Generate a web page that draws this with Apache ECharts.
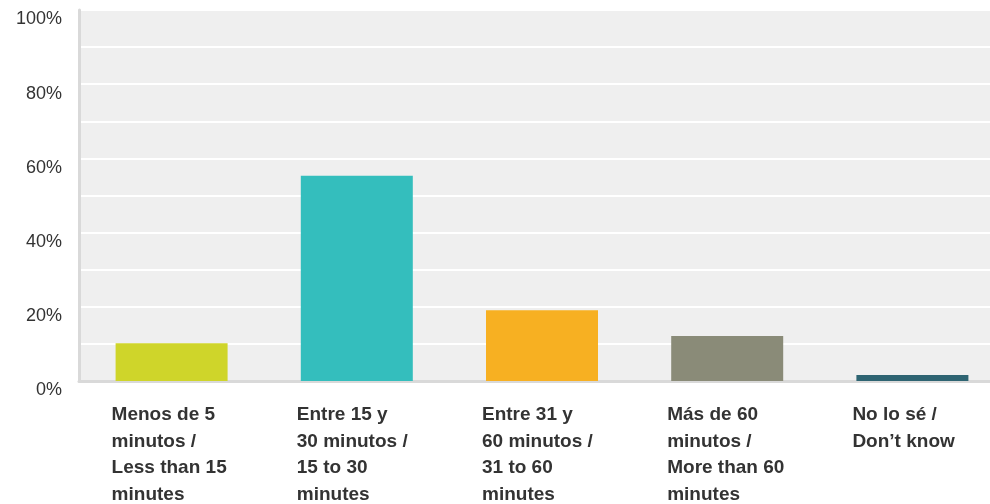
<!DOCTYPE html>
<html>
<head>
<meta charset="utf-8">
<script src="https://cdn.jsdelivr.net/npm/echarts@6/dist/echarts.min.js"></script>
<style>
  html, body { margin: 0; padding: 0; background: #fff; }
  #chart { width: 990px; height: 504px; }
</style>
</head>
<body>
<div id="chart"></div>
<script>
const categories = [
  "Menos de 5\nminutos /\nLess than 15\nminutes",
  "Entre 15 y\n30 minutos /\n15 to 30\nminutes",
  "Entre 31 y\n60 minutos /\n31 to 60\nminutes",
  "Más de 60\nminutos /\nMore than 60\nminutes",
  "No lo sé /\nDon’t know",
];
const values = [10.2, 55.3, 19.1, 12.1, 1.6];
const barColors = ["#cfd52a", "#34bebd", "#f7b022", "#8a8b78", "#2e6472"];

const chart = echarts.init(document.getElementById("chart"));

const option = {
  animation: false,
  grid: {
    left: 79,
    top: 10,
    width: 926,
    bottom: 123,
    outerBoundsMode: "none",
    containLabel: false,
    show: true,
    backgroundColor: "#efefef",
    borderWidth: 0,
  },
  xAxis: {
    type: "category",
    data: categories,
    axisLine: { show: true, lineStyle: { color: "#d9d9d9", width: 3 } },
    axisTick: { show: false },
    axisLabel: {
      interval: 0,
      margin: 21,
      align: "center",
      formatter: (v) => v.split("\n").map((s) => `{a|${s}}`).join("\n"),
      rich: {
        a: {
          width: 120,
          align: "left",
          fontFamily: "Liberation Sans, Arial, sans-serif",
          fontWeight: "bold",
          fontSize: 19,
          lineHeight: 26.5,
          color: "#333",
        },
      },
    },
  },
  yAxis: {
    type: "value",
    min: 0,
    max: 100,
    interval: 10,
    axisLine: { show: true, lineStyle: { color: "#d9d9d9", width: 3 } },
    axisTick: { show: false },
    splitLine: { show: true, lineStyle: { color: "#ffffff", width: 2 } },
    axisLabel: {
      margin: 17,
      verticalAlign: "top",
      lineHeight: 19,
      fontFamily: "Liberation Sans, Arial, sans-serif",
      fontSize: 18,
      color: "#333",
      formatter: (v) => (v % 20 === 0 ? v + "%" : ""),
    },
  },
  series: [
    {
      type: "bar",
      data: values.map((v, i) => ({ value: v, itemStyle: { color: barColors[i] } })),
      barWidth: 112,
    },
  ],
};

chart.setOption(option);
</script>
</body>
</html>
